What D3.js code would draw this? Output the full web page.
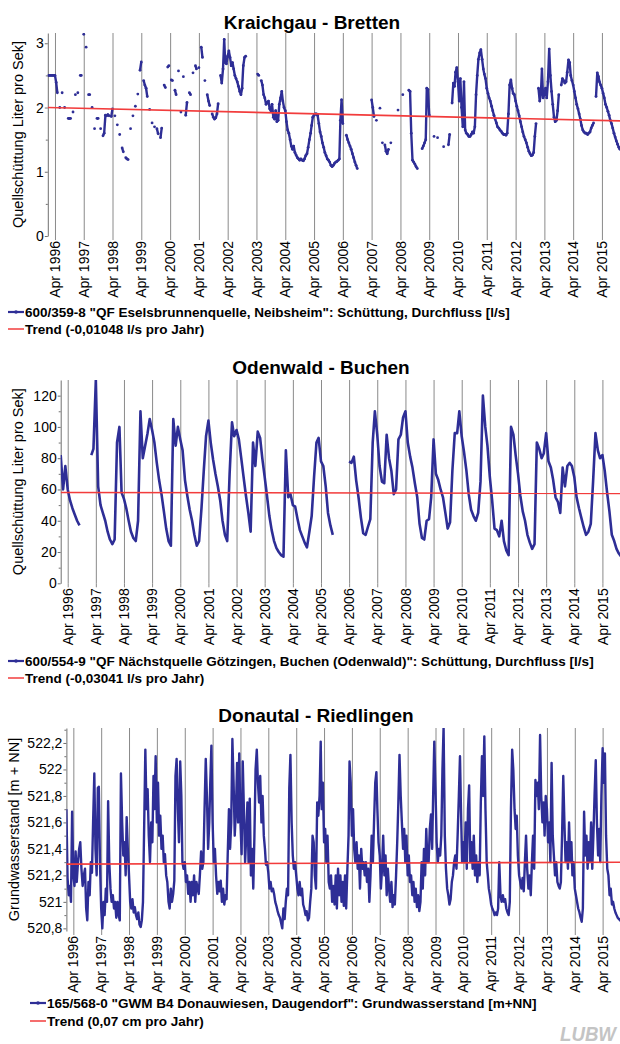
<!DOCTYPE html>
<html>
<head>
<meta charset="utf-8">
<script src="https://cdn.jsdelivr.net/npm/d3@7"></script>
<style>
  body { margin: 0; background: #fff; }
  svg { display: block; font-family: 'Liberation Sans', Arial, sans-serif; }
</style>
</head>
<body>
<svg id="chart"></svg>
<script>
// gridlines + labels sit on 1 April of every year
const tickYears = [1996, 1997, 1998, 1999, 2000, 2001, 2002, 2003, 2004, 2005,
  2006, 2007, 2008, 2009, 2010, 2011, 2012, 2013, 2014, 2015];

// Kraichgau - Bretten: half-monthly readings from Jan 1996, null = no reading
const kraichgauValues = [
  /*1996*/ 2.5,2.5,2.5,2.5,2.5,2.5,2.5,2.39,2.23,null,2.0,null,2.23,null,2.0,null,null,1.83,1.83,1.83,null,1.93,null,2.2,
  /*1997*/ null,2.23,null,2.5,2.5,null,3.14,null,2.94,null,2.2,2.2,null,2.0,null,1.67,null,1.83,1.83,null,1.67,null,1.56,1.6,
  /*1998*/ 1.88,1.87,1.89,1.87,null,1.86,1.98,null,1.87,null,1.73,null,1.58,null,1.37,1.31,null,1.22,1.2,1.19,null,1.67,null,1.87,
  /*1999*/ null,2.02,null,2.21,null,2.58,2.71,null,2.42,2.35,2.3,2.17,null,1.97,null,1.76,null,1.7,null,1.67,1.59,null,1.53,1.68,
  /*2000*/ null,2.35,2.31,null,2.63,2.65,null,2.43,2.42,null,2.27,2.2,null,2.57,null,1.93,null,2.48,null,1.88,2.08,null,2.23,2.2,
  /*2001*/ null,2.54,null,2.65,2.6,null,2.62,null,2.94,2.78,null,2.42,null,2.2,2.1,2.03,null,1.9,1.85,1.82,1.84,1.9,2.06,null,
  /*2002*/ 2.5,2.38,2.6,3.06,2.7,2.68,2.8,2.88,2.78,2.65,2.7,2.6,2.5,2.45,2.4,2.33,2.25,2.2,2.3,2.65,2.78,2.8,null,null,
  /*2003*/ null,null,null,null,null,null,null,2.52,2.5,null,2.42,2.35,2.2,2.15,2.05,2.08,2.1,1.98,1.95,2.05,1.85,1.82,1.95,1.78,
  /*2004*/ 1.8,2.05,2.15,2.25,2.1,2.0,1.95,1.78,1.65,1.6,1.5,1.4,1.35,1.4,1.3,1.26,1.22,1.2,1.18,1.2,1.18,1.17,1.2,1.25,
  /*2005*/ 1.28,1.38,1.5,1.6,1.72,1.85,1.88,1.9,1.9,1.88,1.75,1.62,1.55,1.45,1.38,1.3,1.25,1.2,1.18,1.15,1.1,1.08,1.1,1.13,
  /*2006*/ 1.15,1.16,1.18,1.2,1.8,2.12,1.75,null,null,1.57,1.5,1.45,1.4,1.35,1.28,1.22,1.15,1.1,1.05,null,null,null,null,null,
  /*2007*/ null,null,null,null,null,null,2.12,2.0,1.86,null,1.8,null,null,1.99,null,1.45,null,1.42,1.32,1.28,1.35,null,1.45,null,
  /*2008*/ null,null,null,null,1.96,null,null,null,2.2,null,null,null,null,2.27,2.25,1.6,1.18,1.15,1.12,1.08,1.05,null,null,null,
  /*2009*/ 1.36,1.4,1.45,1.5,2.3,2.28,1.88,null,null,null,1.55,null,null,1.53,null,null,null,null,1.39,null,null,null,1.42,1.58,
  /*2010*/ null,2.07,2.38,2.33,2.55,2.62,2.4,2.1,2.45,2.0,1.7,2.4,1.65,1.6,1.58,1.55,1.55,1.58,1.62,1.6,1.7,2.2,2.5,2.75,
  /*2011*/ 2.85,2.9,2.75,2.6,2.52,2.45,2.3,2.22,2.15,2.1,2.02,1.95,1.88,1.82,1.76,1.7,1.68,1.65,1.63,1.6,1.58,1.58,1.57,1.6,
  /*2012*/ 1.9,2.35,2.43,2.3,2.22,2.2,2.1,2.02,1.95,1.87,1.78,1.7,1.62,1.55,1.5,1.45,1.38,1.32,1.28,1.25,1.26,1.3,1.55,1.75,
  /*2013*/ null,2.3,2.1,2.22,2.6,2.15,2.2,2.3,2.15,2.4,2.91,2.5,2.25,2.05,1.85,1.78,1.8,1.95,2.2,null,2.35,2.45,2.42,2.38,
  /*2014*/ 2.4,2.55,2.74,2.7,2.5,2.42,2.35,2.25,2.15,2.05,1.98,1.9,1.82,1.72,1.65,1.62,1.6,1.6,1.58,1.6,1.62,1.68,1.72,1.76,
  /*2015*/ null,2.17,2.54,2.48,2.4,2.35,2.3,2.22,2.15,2.05,2.0,1.94,1.88,1.8,1.75,1.68,1.6,1.54,1.48,1.43,1.38,1.35,null,null
];
const kraichgauTrend = [2.0, 1.79];
const kraichgauTicks = [0, 1, 2, 3];
const kraichgauMinor = [0.5, 1.5, 2.5];

// Odenwald - Buchen: monthly readings from Jan 1996
const odenwaldValues = [
  /*1996*/ 82,60,75,60,53,48,44,40,37,null,null,null,
  /*1997*/ null,82,86,130,62,50,45,40,33,28,25,28,
  /*1998*/ 90,100,58,54,48,40,33,29,27,40,110,80,
  /*1999*/ 88,96,105,98,90,77,66,57,46,35,27,24,
  /*2000*/ 105,88,100,92,85,66,56,47,40,31,24,27,
  /*2001*/ 48,73,94,104,90,79,70,62,53,40,31,27,
  /*2002*/ 70,103,94,98,92,80,68,56,45,33,90,75,
  /*2003*/ 97,93,80,68,56,43,34,27,22.5,20,18,17,
  /*2004*/ 85,55,57,50,49,41,34,30,26,23,33,43,
  /*2005*/ 68,90,93,78,75,62,45,37,31,null,null,null,
  /*2006*/ null,null,null,78,77,81,66,55,42,32,31,36,
  /*2007*/ 41,90,110,95,75,65,64,95,80,72,57,60,
  /*2008*/ 92,95,106,110,90,81,74,64,55,38,29,28,
  /*2009*/ 40,41,55,92,70,66,60,55,45,35,39,72,
  /*2010*/ 96,96,110,94,84,72,57,47,43,40,45,65,
  /*2011*/ 120,100,88,68,53,35,34,30,40,27,21,18,
  /*2012*/ 100,95,82,70,56,46,40,31,26,22,25,90,
  /*2013*/ 86,80,83,96,78,74,66,55,52,45,74,62,
  /*2014*/ 75,77,75,68,55,48,42,36,31,33,38,65,
  /*2015*/ 96,85,80,82,72,58,46,31,27,22,19,17
];
const odenwaldTrend = [58.1, 57.5];
const odenwaldTicks = [0, 20, 40, 60, 80, 100, 120];
const odenwaldMinor = [10, 30, 50, 70, 90, 110];

// Donautal - Riedlingen: half-monthly groundwater level from Jan 1996
const donautalValues = [
  /*1996*/ 521.7,521.18,521.05,521.12,521.0,521.68,521.2,521.12,521.38,521.15,521.3,521.4,521.45,521.25,521.12,521.2,521.25,520.95,520.86,521.15,521.05,521.3,521.22,521.6,
  /*1997*/ 521.97,521.4,521.2,521.86,521.87,521.3,520.95,520.8,521.0,520.9,521.1,521.0,521.76,521.3,521.1,521.0,521.05,520.95,521.0,520.88,521.0,520.9,520.86,521.97,
  /*1998*/ 521.6,521.35,521.45,521.2,521.64,521.4,521.2,521.0,520.95,521.02,520.92,520.96,520.9,520.87,520.92,520.83,520.81,520.86,521.0,521.55,522.15,521.7,521.85,521.5,
  /*1999*/ 521.3,521.6,521.45,521.95,521.7,522.1,521.6,521.9,521.5,521.65,521.4,521.5,521.3,521.36,521.2,521.15,521.0,520.95,521.1,521.0,521.06,521.16,521.95,522.08,
  /*2000*/ 521.7,521.45,522.06,521.8,521.3,521.25,521.3,521.15,521.2,521.06,521.15,521.0,521.15,521.05,521.2,521.0,521.15,521.1,521.06,521.2,521.38,521.25,521.3,521.7,
  /*2001*/ 522.08,521.8,521.4,521.6,521.9,522.18,521.6,521.3,521.4,521.2,521.06,521.15,521.08,521.16,521.0,521.1,520.98,521.05,521.02,521.36,521.7,521.4,521.6,522.23,
  /*2002*/ 521.9,521.5,521.7,522.05,521.6,522.12,521.6,521.36,522.06,521.7,521.3,521.5,521.75,521.3,521.78,521.2,521.4,521.1,521.5,522.0,522.15,521.9,521.75,521.95,
  /*2003*/ 521.6,521.8,521.5,521.4,521.28,521.3,521.22,521.1,521.15,521.08,521.1,521.06,521.0,520.97,520.93,520.9,520.88,520.84,520.8,520.95,520.87,521.0,521.1,521.05,
  /*2004*/ 521.86,522.11,521.6,521.35,521.25,521.3,521.2,521.1,521.05,521.15,521.05,521.1,520.98,520.95,520.9,520.93,520.86,520.88,521.0,521.1,521.5,521.45,521.2,521.1,
  /*2005*/ 521.75,521.65,521.8,522.21,521.7,521.9,521.45,521.55,521.3,521.5,521.15,521.1,521.2,521.0,521.12,520.98,521.2,520.95,521.25,521.05,521.2,521.0,521.15,520.97,
  /*2006*/ 521.2,520.95,521.25,521.5,522.06,521.9,521.5,521.7,521.4,521.3,521.45,521.25,521.35,521.1,521.4,521.25,521.3,521.2,521.3,521.15,521.25,521.0,521.2,521.5,
  /*2007*/ 521.3,521.6,521.9,521.98,521.7,521.45,521.35,521.1,521.25,521.5,521.2,521.35,521.05,521.25,521.1,521.0,521.15,520.96,521.05,520.98,521.2,521.45,521.75,522.11,
  /*2008*/ 521.8,521.6,521.4,521.55,521.3,521.5,521.2,521.35,521.15,521.2,521.05,521.15,521.0,521.1,520.96,521.05,520.93,521.0,521.3,521.1,521.4,521.2,521.55,521.3,
  /*2009*/ 521.3,521.55,521.66,521.4,521.8,522.21,521.85,521.45,521.3,521.4,521.35,521.5,522.0,522.32,521.5,521.25,521.1,521.05,520.98,521.02,521.15,521.2,521.3,521.35,
  /*2010*/ 521.25,521.5,521.8,522.1,521.7,521.3,521.45,521.3,521.6,521.25,521.7,521.88,521.3,521.45,521.25,521.5,521.2,521.35,521.15,521.3,521.2,521.75,522.1,521.8,
  /*2011*/ 522.25,521.7,521.3,521.2,521.1,521.05,520.98,520.95,520.93,520.9,520.92,520.9,520.95,521.3,521.05,521.0,521.05,521.0,521.02,520.95,520.92,520.9,521.0,521.7,
  /*2012*/ 522.15,522.0,521.7,521.55,521.65,521.35,521.2,521.15,521.1,521.18,521.08,521.3,521.5,521.25,521.1,521.2,521.05,521.3,521.5,521.25,521.92,521.8,521.9,521.7,
  /*2013*/ 522.26,521.8,521.6,521.75,521.5,521.8,521.7,521.45,521.6,521.3,522.05,521.5,521.35,521.2,521.3,521.15,521.12,521.1,521.15,521.5,521.95,521.6,521.3,521.45,
  /*2014*/ 521.25,521.6,521.3,521.45,521.2,521.3,521.1,521.05,521.0,520.95,520.92,520.88,520.85,520.95,521.68,521.35,521.5,521.25,521.45,521.3,521.6,521.25,521.5,521.8,
  /*2015*/ 522.07,521.6,521.35,521.55,521.3,521.8,522.16,521.9,522.12,521.5,521.25,521.2,521.05,521.1,520.98,521.0,520.95,520.92,520.9,520.88,520.87,520.86,520.88,520.87
];
const donautalTrend = [521.285, 521.299];
const donautalTicks = [520.8, 521, 521.2, 521.4, 521.6, 521.8, 522, 522.2];
const donautalMinor = [520.9, 521.1, 521.3, 521.5, 521.7, 521.9, 522.1, 522.3];

const titles = ['Kraichgau - Bretten', 'Odenwald - Buchen', 'Donautal - Riedlingen'];
const yLabels = ['Quellschüttung Liter pro Sek]', 'Quellschüttung Liter pro Sek]', 'Grundwasserstand [m + NN]'];
const legendLabels = [
  ['600/359-8 "QF Eselsbrunnenquelle, Neibsheim": Schüttung, Durchfluss [l/s]', 'Trend (-0,01048 l/s pro Jahr)'],
  ['600/554-9 "QF Nächstquelle Götzingen, Buchen (Odenwald)": Schüttung, Durchfluss [l/s]', 'Trend (-0,03041 l/s pro Jahr)'],
  ['165/568-0 "GWM B4 Donauwiesen, Daugendorf": Grundwasserstand [m+NN]', 'Trend (0,07 cm pro Jahr)']
];

const seriesColor = '#2e2e96';
const trendColor = '#f23c3c';
const gridColor = '#8a8a8a';
const axisColor = '#707070';
const rightEdge = 623.6;

const startDate = new Date(1996, 0, 1);
const endDate = new Date(2016, 0, 1);
const aprilDates = tickYears.map(yr => new Date(yr, 3, 1));
const halfMonth = i => new Date(1996, Math.floor(i / 2), i % 2 ? 16 : 1);
const month = i => new Date(1996, i, 1);
const deComma = d => String(+d.toFixed(1)).replace('.', ',');

const svg = d3.select('#chart').attr('width', 620).attr('height', 1044);
svg.append('rect').attr('width', 620).attr('height', 1044).attr('fill', '#fff');

const panels = [
  { id: 'p1', left: 47.8, top: 33, bottom: 236, yDomain: [0, 3.16],
    ticks: kraichgauTicks, minor: kraichgauMinor, values: kraichgauValues, dateOf: halfMonth,
    trend: kraichgauTrend, titleX: 312, titleY: 28.5, yLabelX: 22.5,
    legendX: 8, legendY: [317, 334], dots: true, lineWidth: 2.4 },
  { id: 'p2', left: 60.7, top: 380, bottom: 583.3, yDomain: [0, 130],
    ticks: odenwaldTicks, minor: odenwaldMinor, values: odenwaldValues, dateOf: month,
    trend: odenwaldTrend, titleX: 321, titleY: 374, yLabelX: 23,
    legendX: 8, legendY: [666, 683], dots: false, lineWidth: 2.6 },
  { id: 'p3', left: 66.4, top: 728, bottom: 931, yDomain: [520.78, 522.313],
    ticks: donautalTicks, minor: donautalMinor, values: donautalValues, dateOf: halfMonth,
    trend: donautalTrend, titleX: 316, titleY: 722, yLabelX: 19,
    legendX: 30, legendY: [1008, 1026], dots: false, lineWidth: 2.4 }
];

panels.forEach((p, k) => {
  const x = d3.scaleTime().domain([startDate, endDate]).range([p.left, rightEdge]);
  const y = d3.scaleLinear().domain(p.yDomain).range([p.bottom, p.top]);

  svg.append('clipPath').attr('id', p.id + '-clip')
    .append('rect')
    .attr('x', p.left).attr('y', p.top)
    .attr('width', rightEdge - p.left).attr('height', p.bottom - p.top);

  svg.append('text')
    .attr('x', p.titleX).attr('y', p.titleY)
    .attr('text-anchor', 'middle')
    .attr('font-size', 19).attr('font-weight', 'bold')
    .text(titles[k]);

  // April gridlines
  svg.append('g').selectAll('line').data(aprilDates).join('line')
    .attr('x1', d => x(d) + 0.5).attr('x2', d => x(d) + 0.5)
    .attr('y1', p.top).attr('y2', p.bottom)
    .attr('stroke', gridColor);

  const xAxis = svg.append('g')
    .attr('transform', `translate(0,${p.bottom})`)
    .call(d3.axisBottom(x).tickValues(aprilDates).tickFormat(d3.timeFormat('%b %Y')).tickSize(4).tickSizeOuter(0))
    .attr('font-family', null).attr('font-size', null);
  xAxis.select('.domain').remove();
  xAxis.selectAll('.tick line').attr('stroke', gridColor);
  xAxis.selectAll('.tick text')
    .attr('transform', 'rotate(-90)')
    .attr('text-anchor', 'end')
    .attr('x', -5).attr('y', 0).attr('dy', '0.33em')
    .attr('font-size', 14).attr('fill', '#000');

  const yAxis = svg.append('g')
    .attr('transform', `translate(${p.left},0)`)
    .call(d3.axisLeft(y).tickValues(p.ticks).tickFormat(deComma).tickSize(3).tickPadding(1).tickSizeOuter(0))
    .attr('font-family', null).attr('font-size', null);
  yAxis.select('.domain').attr('stroke', axisColor);
  yAxis.selectAll('.tick line').attr('stroke', axisColor);
  yAxis.selectAll('.tick text').attr('font-size', 14).attr('fill', '#000');

  svg.append('g')
    .attr('transform', `translate(${p.left},0)`)
    .call(d3.axisLeft(y).tickValues(p.minor).tickFormat('').tickSize(2).tickSizeOuter(0))
    .call(g => g.select('.domain').remove())
    .selectAll('line').attr('stroke', axisColor);

  svg.append('text')
    .attr('transform', `translate(${p.yLabelX},${(p.top + p.bottom) / 2}) rotate(-90)`)
    .attr('text-anchor', 'middle')
    .attr('font-size', 14.5)
    .text(yLabels[k]);

  const pts = p.values.map((v, i) => ({ date: p.dateOf(i), v }));
  const plot = svg.append('g').attr('clip-path', `url(#${p.id}-clip)`);

  plot.append('path')
    .datum(pts)
    .attr('fill', 'none')
    .attr('stroke', seriesColor)
    .attr('stroke-width', p.lineWidth)
    .attr('stroke-linejoin', 'round')
    .attr('d', d3.line().defined(d => d.v !== null).x(d => x(d.date)).y(d => y(d.v)));

  if (p.dots) {
    plot.append('g').selectAll('circle')
      .data(pts.filter(d => d.v !== null))
      .join('circle')
      .attr('cx', d => x(d.date)).attr('cy', d => y(d.v))
      .attr('r', 1.4)
      .attr('fill', seriesColor);
  }

  plot.append('path')
    .datum([{ date: startDate, v: p.trend[0] }, { date: endDate, v: p.trend[1] }])
    .attr('fill', 'none')
    .attr('stroke', trendColor)
    .attr('stroke-width', 1.6)
    .attr('d', d3.line().x(d => x(d.date)).y(d => y(d.v)));

  // legend
  const lg = svg.append('g').attr('font-size', 13.5).attr('font-weight', 'bold');
  legendLabels[k].forEach((label, i) => {
    const ly = p.legendY[i];
    const col = i === 0 ? seriesColor : trendColor;
    lg.append('line')
      .attr('x1', p.legendX).attr('x2', p.legendX + 16)
      .attr('y1', ly - 5).attr('y2', ly - 5)
      .attr('stroke', col).attr('stroke-width', i === 0 ? 2.2 : 1.5);
    if (i === 0) {
      lg.append('circle').attr('cx', p.legendX + 8).attr('cy', ly - 5).attr('r', 1.8).attr('fill', col);
    }
    lg.append('text').attr('x', p.legendX + 17).attr('y', ly).text(label);
  });
});

// LUBW mark, bottom right
svg.append('text')
  .attr('x', 560).attr('y', 1041)
  .attr('font-size', 20).attr('font-weight', 'bold').attr('font-style', 'italic')
  .attr('textLength', 56).attr('lengthAdjust', 'spacingAndGlyphs')
  .attr('fill', '#c4c4c4')
  .text('LUBW');
</script>
</body>
</html>
